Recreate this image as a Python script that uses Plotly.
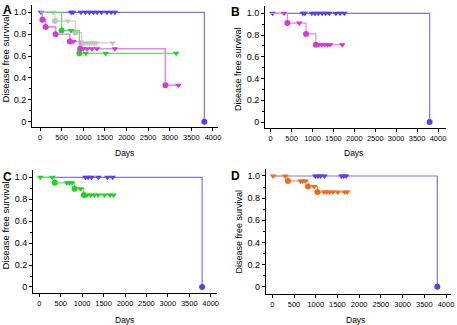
import plotly.graph_objects as go

# ---------------- data ----------------
# Panel A
A_purple_evt_t = [3800]
A_purple_evt_s = [0.0]
A_purple_cens = [23, 720, 765, 945, 1050, 1140, 1235, 1320, 1420, 1545, 1645, 1730]

A_gray_evt_t = [345, 815, 960]
A_gray_evt_s = [0.92, 0.815, 0.72]
A_gray_cens = [295, 640, 1040, 1090, 1140, 1195, 1250, 1300, 1680]

A_green_evt_t = [500, 910]
A_green_evt_s = [0.833, 0.625]
A_green_cens = [715, 1060, 1520, 3150]

A_mag_evt_t = [55, 130, 360, 690, 930, 2900]
A_mag_evt_s = [0.933, 0.867, 0.80, 0.733, 0.667, 0.333]
A_mag_cens = [770, 1000, 1090, 1200, 1320, 1730, 3200]

# Panel B
B_purple_evt_t = [3800]
B_purple_evt_s = [0.0]
B_purple_cens = [45, 770, 815, 985, 1060, 1140, 1230, 1315, 1400, 1560, 1660, 1760]

B_mag_evt_t = [400, 845, 1080]
B_mag_evt_s = [0.91, 0.81, 0.71]
B_mag_cens = [320, 685, 1150, 1220, 1290, 1360, 1420, 1710]

# Panel C
C_purple_evt_t = [3800]
C_purple_evt_s = [0.0]
C_purple_cens = [1075, 1140, 1220, 1380, 1590, 1710]

C_green_evt_t = [360, 825, 1040]
C_green_evt_s = [0.95, 0.897, 0.84]
C_green_cens = [25, 305, 645, 700, 760, 965, 1110, 1200, 1285, 1375, 1520, 1650, 1730]

# Panel D
D_purple_evt_t = [3800]
D_purple_evt_s = [0.0]
D_purple_cens = [990, 1050, 1110, 1200, 1590, 1645, 1700]

D_orange_evt_t = [360, 820, 1040]
D_orange_evt_s = [0.955, 0.905, 0.855]
D_orange_cens = [20, 300, 650, 705, 760, 960, 1190, 1250, 1320, 1395, 1510, 1665, 1725]

panel_letters = ["A", "B", "C", "D"]
x_title = "Days"
y_title = "Disease free survival"
x_ticks = [0, 500, 1000, 1500, 2000, 2500, 3000, 3500, 4000]
y_ticks = [0, 0.2, 0.4, 0.6, 0.8, 1.0]
y_ticktext = ["0", "0.2", "0.4", "0.6", "0.8", "1.0"]

# ---------------- colours ----------------
PURPLE = dict(line="#8574e6", marker="#5b3fe6")
GRAY = dict(line="#cdcdcd", marker="#c2c2c2")
GREEN = dict(line="#62e062", marker="#1ed41e")
MAGENTA = dict(line="#e68ae6", marker="#d63ad6")
ORANGE = dict(line="#f4a264", marker="#f06a1c")

W, H = 457, 325
FONT = "Liberation Sans, Arial, sans-serif"
NARROW = "Liberation Sans Narrow, Arial Narrow, Liberation Sans, Arial, sans-serif"


def surv_at(t, evt_t, evt_s):
    s = 1.0
    for et, es in zip(evt_t, evt_s):
        if et <= t:
            s = es
    return s


fig = go.Figure()


def add_series(ax, evt_t, evt_s, cens, col, lw=1.2):
    xs = "x" if ax == 1 else f"x{ax}"
    ys = "y" if ax == 1 else f"y{ax}"
    end = max(list(evt_t) + list(cens))
    lx = [0] + list(evt_t) + [end]
    ly = [1.0] + list(evt_s) + [evt_s[-1]]
    fig.add_trace(go.Scatter(x=lx, y=ly, mode="lines", line=dict(color=col["line"], width=lw, shape="hv"),
                             xaxis=xs, yaxis=ys, showlegend=False, hoverinfo="skip"))
    fig.add_trace(go.Scatter(x=evt_t, y=evt_s, mode="markers",
                             marker=dict(symbol="circle", size=6, color=col["marker"]),
                             xaxis=xs, yaxis=ys, showlegend=False))
    fig.add_trace(go.Scatter(x=cens, y=[surv_at(c, evt_t, evt_s) for c in cens], mode="markers",
                             marker=dict(symbol="triangle-down", size=6, color=col["marker"]),
                             xaxis=xs, yaxis=ys, showlegend=False))


# Panel A
add_series(1, A_purple_evt_t, A_purple_evt_s, A_purple_cens, PURPLE)
add_series(1, A_gray_evt_t, A_gray_evt_s, A_gray_cens, GRAY)
add_series(1, A_green_evt_t, A_green_evt_s, A_green_cens, GREEN)
add_series(1, A_mag_evt_t, A_mag_evt_s, A_mag_cens, MAGENTA, lw=1.6)
# Panel B
add_series(2, B_purple_evt_t, B_purple_evt_s, B_purple_cens, PURPLE)
add_series(2, B_mag_evt_t, B_mag_evt_s, B_mag_cens, MAGENTA)
# Panel C
add_series(3, C_purple_evt_t, C_purple_evt_s, C_purple_cens, PURPLE)
add_series(3, C_green_evt_t, C_green_evt_s, C_green_cens, GREEN)
# Panel D
add_series(4, D_purple_evt_t, D_purple_evt_s, D_purple_cens, PURPLE)
add_series(4, D_orange_evt_t, D_orange_evt_s, D_orange_cens, ORANGE)

# panel geometry in pixels and axis ranges; label positions in pixels
panels = [
    dict(xd=(32, 218), yd=(5, 127), xr=(-185, 4116), yr=(-0.048, 1.067),
         letter=(1, 10), ytitle=(5, 58.5, 9.5), xtitle=(124, 152.5)),
    dict(xd=(265, 446), yd=(6, 128), xr=(-136, 4191), yr=(-0.055, 1.067),
         letter=(229, 12), ytitle=(238, 69, 9), xtitle=(353, 152.5)),
    dict(xd=(33, 217), yd=(170, 293), xr=(-147, 4147), yr=(-0.055, 1.067),
         letter=(1, 177), ytitle=(5, 225.5, 9.5), xtitle=(124, 319.5)),
    dict(xd=(265.7, 450.7), yd=(169, 294), xr=(-152, 4108), yr=(-0.066, 1.063),
         letter=(229, 176), ytitle=(238, 231.5, 9), xtitle=(355, 319.5)),
]

layout = dict(width=W, height=H, margin=dict(l=0, r=0, t=0, b=0),
              paper_bgcolor="white", plot_bgcolor="white",
              font=dict(family=FONT, size=9, color="black"), showlegend=False)

annotations = []
for i, p in enumerate(panels, start=1):
    xa = dict(domain=[p["xd"][0] / W, p["xd"][1] / W], range=list(p["xr"]),
              anchor="y" if i == 1 else f"y{i}",
              showline=True, linecolor="black", linewidth=1, mirror=False,
              ticks="outside", ticklen=3, tickwidth=1, tickcolor="black",
              tickvals=x_ticks, ticktext=[str(v) for v in x_ticks], tickangle=0,
              tickfont=dict(size=7.5, family=NARROW),
              showgrid=False, zeroline=False,
              automargin=False, fixedrange=True)
    ya = dict(domain=[1 - p["yd"][1] / H, 1 - p["yd"][0] / H], range=list(p["yr"]),
              anchor="x" if i == 1 else f"x{i}",
              showline=True, linecolor="black", linewidth=1,
              ticks="outside", ticklen=3, tickwidth=1, tickcolor="black",
              tickvals=y_ticks, ticktext=y_ticktext,
              tickfont=dict(size=9, family=FONT),
              minor=dict(ticks="outside", tickvals=[0.1, 0.3, 0.5, 0.7, 0.9], ticklen=2, tickcolor="black"),
              showgrid=False, zeroline=False,
              automargin=False, fixedrange=True)
    layout["xaxis" if i == 1 else f"xaxis{i}"] = xa
    layout["yaxis" if i == 1 else f"yaxis{i}"] = ya

    lx, ly = p["letter"]
    annotations.append(dict(text=f"<b>{panel_letters[i - 1]}</b>", x=lx / W, y=1 - ly / H,
                            xref="paper", yref="paper", xanchor="left", yanchor="middle",
                            showarrow=False, font=dict(size=12, family=FONT, color="black")))
    tx, ty, ts = p["ytitle"]
    annotations.append(dict(text=y_title, x=tx / W, y=1 - ty / H, xref="paper", yref="paper",
                            xanchor="center", yanchor="middle", textangle=-90, showarrow=False,
                            font=dict(size=ts, family=FONT, color="black")))
    dx, dy = p["xtitle"]
    annotations.append(dict(text=x_title, x=dx / W, y=1 - dy / H, xref="paper", yref="paper",
                            xanchor="center", yanchor="middle", showarrow=False,
                            font=dict(size=8.5, family=FONT, color="black")))
layout["annotations"] = annotations

fig.update_layout(**layout)
fig.write_html("out.html", config={"displayModeBar": False},
               post_script="document.body.style.margin='0';document.body.style.padding='0';"
                           "document.body.style.overflow='hidden';")
